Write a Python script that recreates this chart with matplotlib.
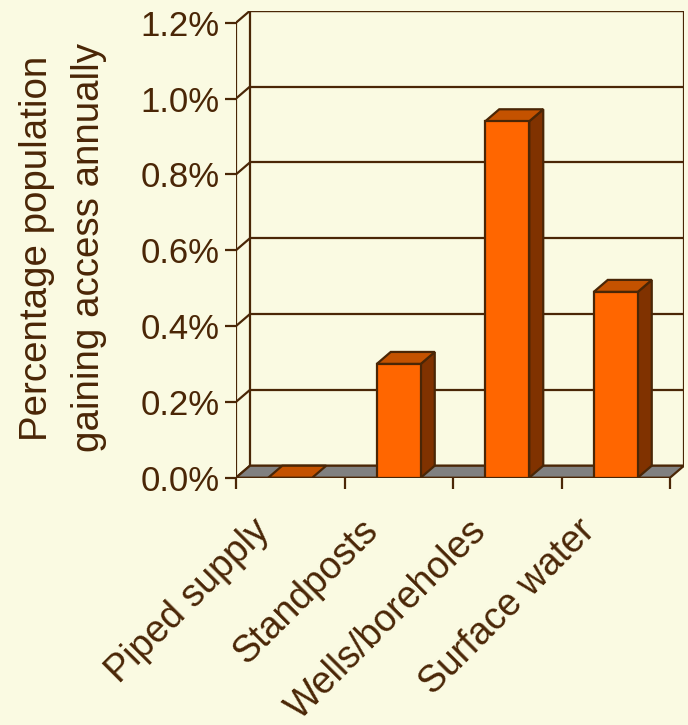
import matplotlib
matplotlib.use("Agg")
import matplotlib.pyplot as plt
from matplotlib.patches import Polygon, Rectangle
from matplotlib.transforms import ScaledTranslation, blended_transform_factory

plt.rcParams['font.family'] = ['Liberation Sans', 'DejaVu Sans']

categories = ["Piped supply", "Standposts", "Wells/boreholes", "Surface water"]
values = [0.0, 0.30, 0.94, 0.49]          # percent of population per year
y_ticks = [0.0, 0.2, 0.4, 0.6, 0.8, 1.0, 1.2]
y_label = "Percentage population\ngaining access annually"

BG = "#FAFAE2"
INK = "#4A2606"
FLOOR = "#808080"
FRONT = "#FF6600"
TOP = "#C45200"
SIDE = "#803200"

W, H, DPI = 688, 725, 100
fig = plt.figure(figsize=(W / DPI, H / DPI), dpi=DPI, facecolor=BG)

# pixel geometry of the plotting box (front plane + depth)
x_front_l, x_front_r = 236, 670
y_zero, y_top = 477.7, 22.7
depth_px = (14, 12)

n = len(categories)
ymax = y_ticks[-1]
px_per_x = (x_front_r - x_front_l) / n
px_per_y = (y_zero - y_top) / ymax
dx = depth_px[0] / px_per_x
dy = depth_px[1] / px_per_y

ax_w = (x_front_r - x_front_l) + depth_px[0]
ax_h = (y_zero - y_top) + depth_px[1]
ax = fig.add_axes([x_front_l / W, (H - y_zero) / H, ax_w / W, ax_h / H])
ax.set_xlim(0, n + dx)
ax.set_ylim(0, ymax + dy)
ax.patch.set_alpha(0)
for s in ax.spines.values():
    s.set_visible(False)

lw = 1.6

# back wall
ax.add_patch(Rectangle((dx, dy), n, ymax, facecolor=BG, edgecolor=INK, lw=lw, zorder=1))
for v in y_ticks:
    ax.plot([dx, n + dx], [v + dy, v + dy], color=INK, lw=lw, zorder=1.2,
            solid_capstyle='butt')
    # side wall diagonals
    ax.plot([0, dx], [v, v + dy], color=INK, lw=lw, zorder=1.2)
ax.plot([0, 0], [0, ymax], color=INK, lw=lw, zorder=1.2)

# floor
ax.add_patch(Polygon([(0, 0), (n, 0), (n + dx, dy), (dx, dy)], closed=True,
                     facecolor=FLOOR, edgecolor=INK, lw=lw, zorder=2,
                     joinstyle='miter'))

# bars
bw = 44 / px_per_x
for i, v in enumerate(values):
    x0 = i + (1 - bw) / 2
    x1 = x0 + bw
    if v > 0:
        ax.add_patch(Polygon([(x1, 0), (x1 + dx, dy), (x1 + dx, v + dy), (x1, v)],
                             closed=True, facecolor=SIDE, edgecolor=INK, lw=lw,
                             zorder=3, joinstyle='miter'))
        ax.add_patch(Rectangle((x0, 0), bw, v, facecolor=FRONT, edgecolor=INK,
                               lw=lw, zorder=3.2, joinstyle='miter'))
    ax.add_patch(Polygon([(x0, v), (x1, v), (x1 + dx, v + dy), (x0 + dx, v + dy)],
                         closed=True, facecolor=TOP, edgecolor=INK, lw=lw,
                         zorder=3.1, joinstyle='miter'))

# axes ticks
ax.set_yticks(y_ticks)
ax.set_yticklabels([f"{v:.1f}%" for v in y_ticks])
ax.set_xticks(range(n + 1))
ax.set_xticklabels([])
ax.tick_params(axis='both', direction='out', length=8, width=lw, color=INK,
               labelcolor=INK, labelsize=25)
ax.tick_params(axis='y', pad=4)

# category labels
trans = blended_transform_factory(ax.transData, ax.transAxes)
for i, name in enumerate(categories):
    off = ScaledTranslation(-39 / DPI, -35 / DPI, fig.dpi_scale_trans)
    ax.text(i + 0.5, 0, name, transform=trans + off, rotation=45,
            rotation_mode='anchor', ha='right', va='top', fontsize=27, color=INK)

fig.text(63 / W, 1 - 248 / H, y_label, rotation=90, ha='center', va='center',
         multialignment='center', fontsize=27.7, color=INK, linespacing=1.6)

fig.savefig("out.png", dpi=DPI, facecolor=BG)
